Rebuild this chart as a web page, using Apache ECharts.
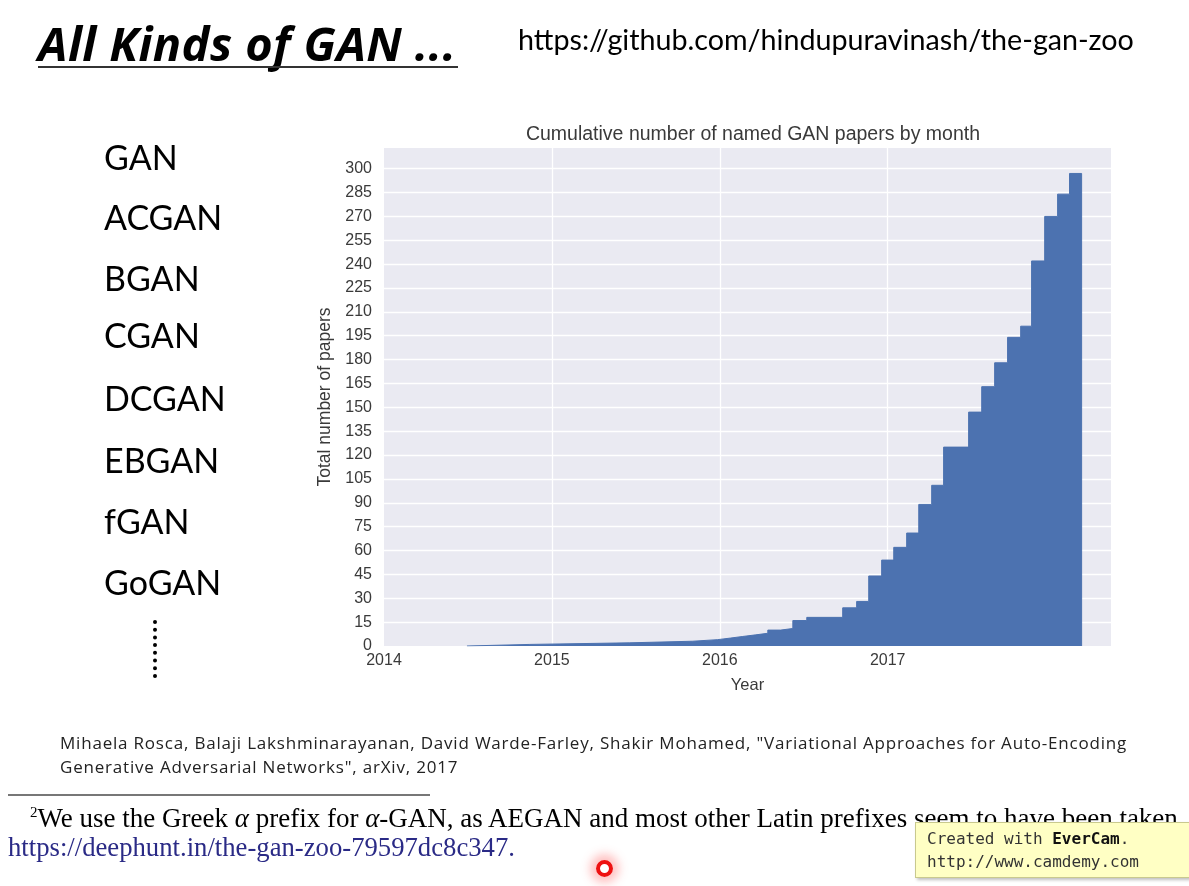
<!DOCTYPE html>
<html>
<head>
<meta charset="utf-8">
<title>All Kinds of GAN</title>
<script src="https://cdn.jsdelivr.net/npm/echarts@6/dist/echarts.min.js"></script>
<style>
html, body { margin: 0; padding: 0; background: #fff; }
.slide { position: relative; width: 1189px; height: 886px; overflow: hidden; }
#chart { position: absolute; left: 0; top: 0; width: 1189px; height: 886px; }
.txt { position: absolute; white-space: nowrap; z-index: 2; line-height: 1; color: #000; }
.heading { left: 38px; top: 11px; font: italic bold 47px "Open Sans", Lato, sans-serif; letter-spacing: 0.4px; }
.heading-line { position: absolute; left: 38px; top: 66px; width: 420px; height: 2px; background: #333; z-index: 2; }
.zoo-url { left: 518px; top: 22px; font: 28.7px Lato, "Open Sans", sans-serif; }
.gan-name { left: 104px; font: 34px Lato, "Open Sans", sans-serif; }
.dots { position: absolute; left: 153px; top: 620px; height: 58px; border-left: 4px dotted #000; z-index: 2; }
.cite { left: 60px; top: 731px; font: 17px "Open Sans", sans-serif; letter-spacing: 0.8px; line-height: 24px; color: #222; }
.rule { position: absolute; left: 8px; top: 794px; width: 422px; height: 2px; background: #777; z-index: 2; }
.foot { left: 30px; top: 803px; font: 27px "Liberation Serif", "DejaVu Serif", serif; }
.foot sup { font-size: 15px; vertical-align: 10px; }
.foot i { font-style: italic; }
.deep { left: 8px; top: 832px; font: 26.7px "Liberation Serif", "DejaVu Serif", serif; color: #2a2a86; }
.evercam { position: absolute; left: 915px; top: 822px; width: 262px; height: 46px; padding: 4px 4px 4px 11px;
  background: #ffffc4; border: 1px solid #c9c98e; box-shadow: 2px 2px 3px rgba(0,0,0,0.25); z-index: 3;
  font: 16px "DejaVu Sans Mono", monospace; color: #333; line-height: 23px; }
.evercam b { color: #111; }
.cursor { position: absolute; left: 596px; top: 860px; width: 9px; height: 9px; border: 4px solid #ee1111;
  border-radius: 50%; box-shadow: 0 0 10px 6px rgba(255,80,80,0.35); z-index: 3; }
</style>
</head>
<body>
<div class="slide">
  <div id="chart"></div>

  <div class="txt heading">All Kinds of GAN ...</div>
  <div class="heading-line"></div>
  <div class="txt zoo-url">https://github.com/hindupuravinash/the-gan-zoo</div>

  <div class="txt gan-name" style="top:136px">GAN</div>
  <div class="txt gan-name" style="top:196px">ACGAN</div>
  <div class="txt gan-name" style="top:257px">BGAN</div>
  <div class="txt gan-name" style="top:314px">CGAN</div>
  <div class="txt gan-name" style="top:377px">DCGAN</div>
  <div class="txt gan-name" style="top:439px">EBGAN</div>
  <div class="txt gan-name" style="top:500px">fGAN</div>
  <div class="txt gan-name" style="top:561px">GoGAN</div>
  <div class="dots"></div>

  <div class="txt cite">Mihaela Rosca, Balaji Lakshminarayanan, David Warde-Farley, Shakir Mohamed, "Variational Approaches for Auto-Encoding<br>Generative Adversarial Networks", arXiv, 2017</div>

  <div class="rule"></div>
  <div class="txt foot"><sup>2</sup>We use the Greek <i>α</i> prefix for <i>α</i>-GAN, as AEGAN and most other Latin prefixes seem to have been taken</div>
  <div class="txt deep">https://deephunt.in/the-gan-zoo-79597dc8c347.</div>

  <div class="evercam">Created with <b>EverCam</b>.<br>http://www.camdemy.com</div>
  <div class="cursor"></div>
</div>

<script>
// 每个柱的左边界（年份），最后一个是最右柱的右边界
const binEdges = [
  2014.494, 2014.869, 2015.464, 2015.839, 2015.988, 2016.065, 2016.137, 2016.214,
  2016.286, 2016.363, 2016.435, 2016.518, 2016.732, 2016.815, 2016.887, 2016.964,
  2017.036, 2017.113, 2017.185, 2017.262, 2017.333, 2017.482, 2017.560, 2017.637,
  2017.714, 2017.792, 2017.857, 2017.935, 2018.012, 2018.083, 2018.155
]
// 累计论文数
const cumulativeCounts = [
  1, 2, 3, 4, 5, 6, 7, 8, 10, 11,
  16, 18, 24, 28, 44, 54, 62, 71, 89, 101,
  125, 147, 163, 178, 194, 201, 242, 270, 284, 297
]
const yearTicks = [2014, 2015, 2016, 2017]

const chartTitle = 'Cumulative number of named GAN papers by month'
const xName = 'Year'
const yName = 'Total number of papers'

// 阶梯线的点
const stepPoints = [[binEdges[0], 0]]
cumulativeCounts.forEach((c, i) => {
  stepPoints.push([binEdges[i], c])
})
const lastEdge = binEdges[binEdges.length - 1]
stepPoints.push([lastEdge, cumulativeCounts[cumulativeCounts.length - 1]])
stepPoints.push([lastEdge, 0])

const lastYear = yearTicks[yearTicks.length - 1]
const labelFont = '"Liberation Sans", Arial, sans-serif'

const chart = echarts.init(document.getElementById('chart'))

const option = {
  animation: false,
  title: {
    text: chartTitle,
    left: 748,
    top: 120,
    textAlign: 'center',
    textStyle: { fontFamily: labelFont, fontSize: 19.5, fontWeight: 'normal', color: '#3a3a3a' }
  },
  grid: {
    left: 384,
    right: 78,
    top: 148,
    bottom: 240,
    show: true,
    backgroundColor: '#EAEAF2',
    borderWidth: 0
  },
  xAxis: {
    type: 'value',
    min: 2014,
    max: 2018.33,
    interval: 1,
    name: xName,
    nameLocation: 'middle',
    nameGap: 31,
    nameTextStyle: { fontFamily: labelFont, fontSize: 16.5, color: '#3a3a3a' },
    axisLine: { show: false },
    axisTick: { show: false },
    axisLabel: {
      margin: 7,
      fontFamily: labelFont,
      fontSize: 16,
      color: '#3a3a3a',
      formatter: v => (Number.isInteger(v) && v <= lastYear) ? String(v) : ''
    },
    splitLine: {
      show: true,
      showMinLine: false,
      showMaxLine: false,
      lineStyle: { color: ['#ffffff', '#ffffff', '#ffffff', 'rgba(0,0,0,0)'], width: 1.3 }
    }
  },
  yAxis: {
    type: 'value',
    min: 0,
    max: 313,
    interval: 15,
    name: yName,
    nameLocation: 'middle',
    nameGap: 50,
    nameTextStyle: { fontFamily: labelFont, fontSize: 17.5, color: '#3a3a3a' },
    axisLine: { show: false },
    axisTick: { show: false },
    axisLabel: {
      margin: 12,
      fontFamily: labelFont,
      fontSize: 16,
      color: '#3a3a3a',
      formatter: v => (v % 15 === 0) ? String(v) : ''
    },
    splitLine: {
      show: true,
      showMinLine: false,
      showMaxLine: false,
      lineStyle: { color: '#ffffff', width: 1.3 }
    }
  },
  series: [
    {
      type: 'line',
      step: 'end',
      data: stepPoints,
      symbol: 'none',
      lineStyle: { color: '#4C72B0', width: 1 },
      areaStyle: { color: '#4C72B0', opacity: 1 },
      z: 3
    }
  ]
}

chart.setOption(option)
</script>
</body>
</html>
